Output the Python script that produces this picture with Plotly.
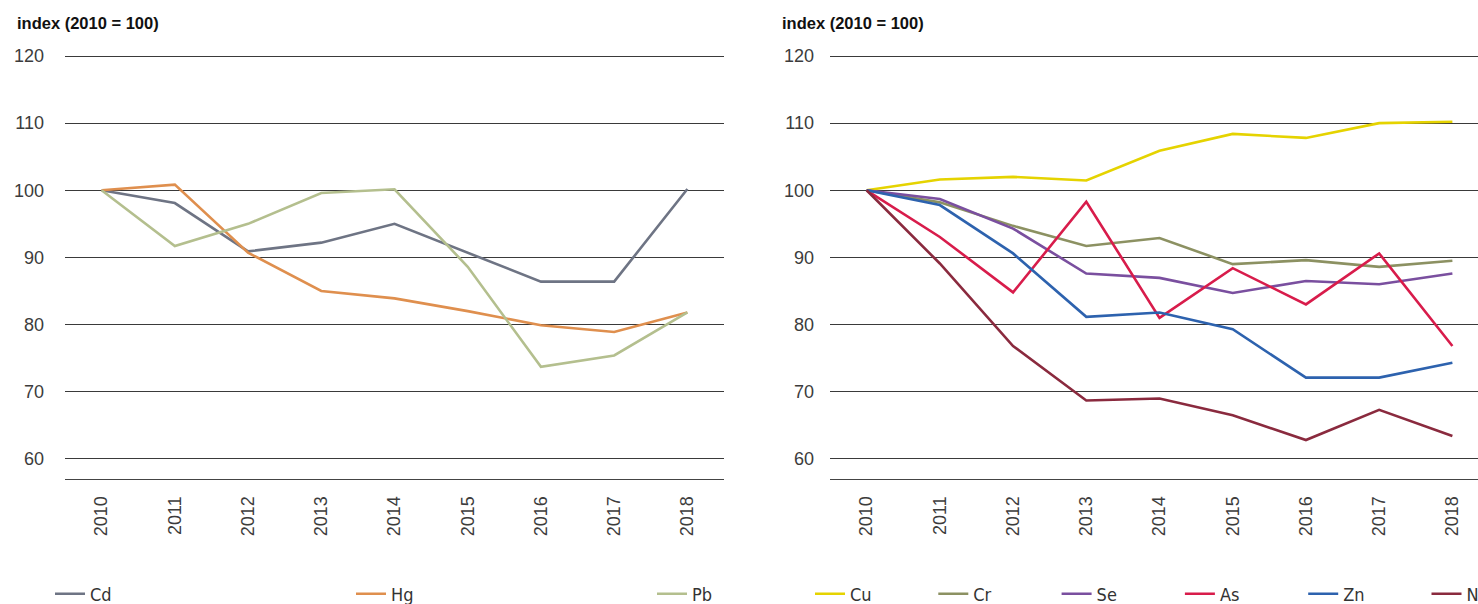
import plotly.graph_objects as go

years = ["2010", "2011", "2012", "2013", "2014", "2015", "2016", "2017", "2018"]

# Left panel
cd = [100, 98.1, 90.9, 92.2, 95.0, 90.7, 86.4, 86.4, 100.2]
hg = [100, 100.85, 90.7, 85.0, 83.9, 82.0, 79.9, 78.9, 81.8]
pb = [100, 91.7, 95.0, 99.6, 100.15, 88.6, 73.7, 75.4, 81.8]

# Right panel
cu = [100, 101.6, 102.0, 101.45, 105.9, 108.4, 107.8, 110.0, 110.2]
cr = [100, 98.2, 94.7, 91.7, 92.9, 89.0, 89.6, 88.6, 89.5]
se = [100, 98.7, 94.3, 87.6, 86.95, 84.7, 86.5, 86.0, 87.6]
as_ = [100, 93.05, 84.8, 98.3, 81.0, 88.4, 83.0, 90.6, 76.8]
zn = [100, 97.8, 90.6, 81.15, 81.8, 79.3, 72.1, 72.1, 74.3]
ni = [100, 89.1, 76.8, 68.7, 69.0, 66.5, 62.8, 67.3, 63.4]

left_series = [("Cd", cd, "#6e7484"), ("Hg", hg, "#df8f4e"), ("Pb", pb, "#b4bf8e")]
right_series = [("Cu", cu, "#e5d300"), ("Cr", cr, "#8c9162"), ("Se", se, "#7a4f9f"),
                ("As", as_, "#d81c4b"), ("Zn", zn, "#2d62ae"), ("Ni", ni, "#8a2a3e")]

yticks = [60, 70, 80, 90, 100, 110, 120]
x_idx = list(range(len(years)))
boundaries = [i + 0.5 for i in range(len(years) - 1)]

W, H = 1478, 604
fig = go.Figure()

for name, vals, col in left_series:
    fig.add_trace(go.Scatter(x=x_idx, y=vals, name=name, mode="lines",
                             line=dict(color=col, width=2.6), xaxis="x", yaxis="y",
                             legend="legend"))
for name, vals, col in right_series:
    fig.add_trace(go.Scatter(x=x_idx, y=vals, name=name, mode="lines",
                             line=dict(color=col, width=2.6), xaxis="x2", yaxis="y2",
                             legend="legend2"))

tickfont = dict(family="Liberation Sans, Arial, sans-serif", size=18, color="#3c3c3c")
px_per_unit = (459 - 56) / 60.0
ytop = 120.15
ydom = [1 - 479 / H, 1 - (56 - (ytop - 120) * px_per_unit) / H]
left_dom = [65 / W, 724 / W]
right_dom = [830 / W, 1.0]
left_range = [-0.5, 8.5]
right_range = [-0.5, -0.5 + (W - 830) / ((724 - 65) / 9)]

def xmain(dom, rng, anchor):
    return dict(domain=dom, range=rng, anchor=anchor, tickmode="array",
                tickvals=x_idx, ticktext=years, tickangle=-90, ticks="",
                showgrid=False, zeroline=False, showline=True, linecolor="#444",
                linewidth=1.2, tickfont=tickfont, ticklabelstandoff=9)

def xover(base, rng, anchor, direction):
    return dict(overlaying=base, range=rng, anchor=anchor, tickmode="array",
                tickvals=boundaries, ticks=direction, ticklen=10, tickwidth=1.2,
                tickcolor="#444", showticklabels=False, showgrid=False,
                zeroline=False, showline=False)

def yax(dom, anchor, standoff):
    return dict(domain=dom, range=[57, ytop], anchor=anchor, tickmode="array",
                tickvals=yticks, showgrid=True, gridcolor="#3a3a3a", gridwidth=1.2,
                zeroline=False, showline=False, ticks="", tickfont=tickfont,
                ticklabelstandoff=standoff)

legfont = dict(family="Liberation Sans Narrow, DejaVu Sans Condensed, Arial", size=18, color="#333")

fig.update_layout(
    width=W, height=H,
    paper_bgcolor="white", plot_bgcolor="white",
    margin=dict(l=0, r=0, t=0, b=0, autoexpand=False),
    xaxis=xmain(left_dom, left_range, "y"),
    xaxis2=xmain(right_dom, right_range, "y2"),
    xaxis3=xover("x", left_range, "y", "outside"),
    xaxis4=xover("x", left_range, "y", "inside"),
    xaxis5=xover("x2", right_range, "y2", "outside"),
    xaxis6=xover("x2", right_range, "y2", "inside"),
    yaxis=yax(ydom, "x", 20),
    yaxis2=yax(ydom, "x2", 15),
    legend=dict(orientation="h", x=(65 - 15) / W, xanchor="left",
                y=1 - 594 / H, yanchor="middle", entrywidthmode="pixels",
                entrywidth=256, font=legfont, bgcolor="rgba(0,0,0,0)"),
    legend2=dict(orientation="h", x=(830 - 20) / W, xanchor="left",
                 y=1 - 594 / H, yanchor="middle", entrywidthmode="pixels",
                 entrywidth=78.3, font=legfont, bgcolor="rgba(0,0,0,0)"),
    showlegend=True,
)

for xpos in [15, 780]:
    fig.add_annotation(text="<b>index (2010 = 100)</b>", xref="paper", yref="paper",
                       x=xpos / W, y=1 - 23 / H, xanchor="left", yanchor="middle",
                       showarrow=False,
                       font=dict(family="Liberation Sans, Arial, sans-serif", size=16.5, color="#111"))

fig.write_html("out.html", config={"displayModeBar": False},
               post_script="document.body.style.margin='0';")
